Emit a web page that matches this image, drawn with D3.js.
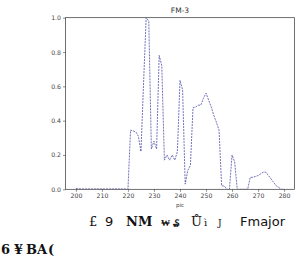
<!DOCTYPE html>
<html>
<head>
<meta charset="utf-8">
<script src="https://cdn.jsdelivr.net/npm/d3@7"></script>
<style>
  body { margin: 0; background: #fff; }
  svg { display: block; }
</style>
</head>
<body>
<div id="viz-container"></div>
<script>
// data
let picValues = d3.range(200, 281);
let intensity = [
  0.004, 0.003, 0.002, 0.002, 0.002, 0.002, 0.002, 0.002, 0.002, 0.002, // 200-209
  0.002, 0.002, 0.002, 0.002, 0.002, 0.002, 0.002, 0.002, 0.002, 0.002, // 210-219
  0.0, 0.345, 0.34, 0.335, 0.31, 0.22, 0.62, 1.0, 0.98, 0.235,        // 220-229
  0.28, 0.235, 0.78, 0.72, 0.17, 0.2, 0.17, 0.2, 0.17, 0.22,          // 230-239
  0.635, 0.58, 0.03, 0.11, 0.14, 0.475, 0.48, 0.49, 0.49, 0.53,       // 240-249
  0.56, 0.52, 0.48, 0.43, 0.39, 0.345, 0.02, 0.02, 0.0, 0.0,          // 250-259
  0.2, 0.16, 0.0, 0.0, 0.0, 0.0, 0.0, 0.07, 0.07, 0.075,              // 260-269
  0.08, 0.09, 0.1, 0.1, 0.08, 0.06, 0.04, 0.02, 0.01, 0.0,            // 270-279
  0.0                                                                  // 280
];
let xTicks = [200, 210, 220, 230, 240, 250, 260, 270, 280];
let yTicks = [0.0, 0.2, 0.4, 0.6, 0.8, 1.0];
let chartTitle = "FM-3";
let xLabel = "pic";

// odd glyph text under the chart
let noteRow1 = [
  {t: "£", x: 89, font: "serif", w: "normal"},
  {t: "9", x: 105, font: "sans-serif", w: "normal"},
  {t: "NM", x: 126, font: "serif", w: "bold"},
  {t: "₩", x: 161, font: "serif", w: "bold", s: 9},
  {t: "₷", x: 173, font: "serif", w: "bold", s: 9},
  {t: "Ů", x: 191, font: "serif", w: "normal"},
  {t: "ì", x: 204, font: "serif", w: "normal", s: 10},
  {t: "J", x: 218, font: "serif", w: "normal", s: 9},
  {t: "Fmajor", x: 240, font: "sans-serif", w: "normal"}
];
let noteRow2 = [
  {t: "6", x: 1}, {t: "¥", x: 14}, {t: "B", x: 26}, {t: "A", x: 37}, {t: "(", x: 48}
];

let W = 296, H = 258;
let m = {left: 65.5, right: 294.5, top: 17.7, bottom: 189.3};

let viz = d3.select("#viz-container")
    .append("svg")
    .attr("width", W)
    .attr("height", H)
    .style("font-family", "'DejaVu Sans', sans-serif");

let x = d3.scaleLinear().domain([196, 284]).range([m.left, m.right]);
let y = d3.scaleLinear().domain([0, 1]).range([m.bottom, m.top]);

viz.append("defs").append("clipPath").attr("id", "clip")
    .append("rect")
    .attr("x", m.left).attr("y", m.top)
    .attr("width", m.right - m.left).attr("height", m.bottom - m.top);

// the line
let line = d3.line()
    .x((d, i) => x(picValues[i]))
    .y(d => y(d));

viz.append("path")
    .datum(intensity)
    .attr("clip-path", "url(#clip)")
    .attr("d", line)
    .attr("fill", "none")
    .attr("stroke", "#4646a6")
    .attr("stroke-opacity", 0.85)
    .attr("stroke-width", 0.9)
    .attr("stroke-dasharray", "2,1");

// axes
let xAxis = d3.axisBottom(x).tickValues(xTicks).tickSize(2.5).tickPadding(2).tickFormat(d3.format("d"));
let yAxis = d3.axisLeft(y).tickValues(yTicks).tickSize(2.5).tickPadding(2).tickFormat(d3.format(".1f"));

let gx = viz.append("g").attr("transform", "translate(0," + m.bottom + ")").call(xAxis);
let gy = viz.append("g").attr("transform", "translate(" + m.left + ",0)").call(yAxis);

[gx, gy].forEach(g => {
    g.select(".domain").remove();
    g.selectAll("line").attr("stroke", "#444").attr("stroke-width", 0.6);
    g.selectAll("text").attr("fill", "#444").style("font-size", "6.2px").style("font-family", "'DejaVu Sans', sans-serif");
});

// frame
viz.append("rect")
    .attr("x", m.left).attr("y", m.top)
    .attr("width", m.right - m.left).attr("height", m.bottom - m.top)
    .attr("fill", "none")
    .attr("stroke", "#333")
    .attr("stroke-width", 0.7);

viz.append("text")
    .text(chartTitle)
    .attr("x", (m.left + m.right) / 2)
    .attr("y", 13)
    .attr("text-anchor", "middle")
    .attr("fill", "#333")
    .style("font-size", "7.5px");

viz.append("text")
    .text(xLabel)
    .attr("x", (m.left + m.right) / 2)
    .attr("y", 207)
    .attr("text-anchor", "middle")
    .attr("fill", "#444")
    .style("font-size", "5.5px");

viz.selectAll(".note1").data(noteRow1).enter().append("text")
    .attr("class", "note1")
    .text(d => d.t)
    .attr("x", d => d.x)
    .attr("y", 226)
    .attr("fill", "#111")
    .style("font-family", d => d.font == "serif" ? "'DejaVu Serif', serif" : "'DejaVu Sans', sans-serif")
    .style("font-weight", d => d.w)
    .style("font-size", d => (d.s || 13) + "px");

viz.selectAll(".note2").data(noteRow2).enter().append("text")
    .attr("class", "note2")
    .text(d => d.t)
    .attr("x", d => d.x)
    .attr("y", 254)
    .attr("fill", "#111")
    .style("font-family", "'DejaVu Serif', serif")
    .style("font-weight", "bold")
    .style("font-size", "13px");
</script>
</body>
</html>
